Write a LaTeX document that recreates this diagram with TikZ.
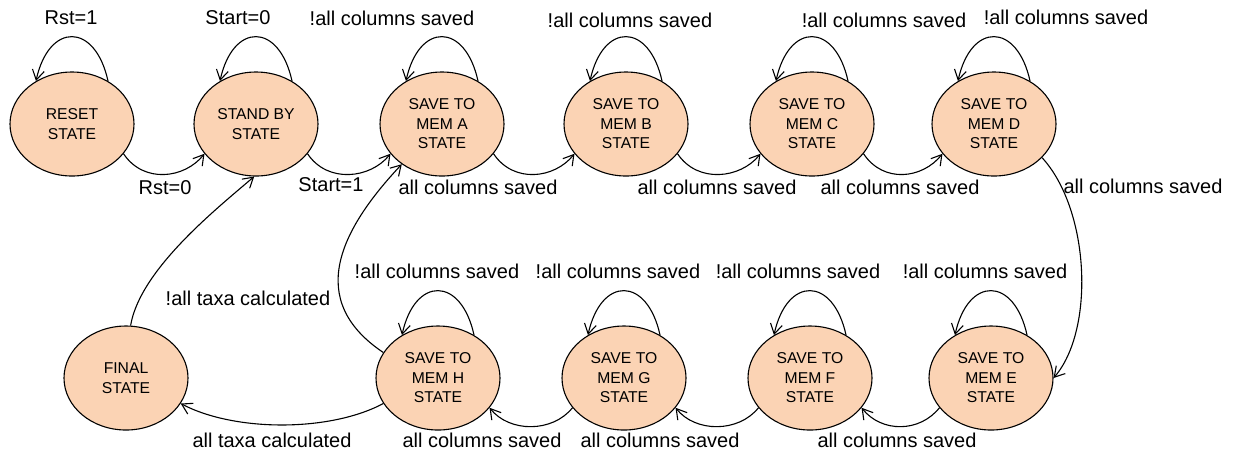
\documentclass[tikz,border=0pt]{standalone}
\usepackage{fontspec}
\setmainfont{Liberation Sans}
\usetikzlibrary{shapes.geometric,arrows.meta}
\definecolor{statefill}{RGB}{251,211,180}
\begin{document}
\begin{tikzpicture}[x=0.5pt,y=-0.5pt,
  state/.style={ellipse,draw,line width=0.55pt,fill=statefill,
    minimum width=62pt,minimum height=52pt,inner sep=0pt,align=center,
    font=\fontsize{7.85}{9.75}\selectfont},
  lbl/.style={font=\fontsize{10}{12}\selectfont,inner sep=0pt},
  tr/.style={line width=0.55pt,-{Straight Barb[length=5pt,width=6pt]}}]
\useasboundingbox (0,0) rectangle (1240,452);

% states
\node[state] (rst) at (72,124)  {RESET\\STATE};
\node[state] (stb) at (256,124) {STAND BY\\STATE};
\node[state] (ma)  at (442,124) {SAVE TO\\MEM A\\STATE};
\node[state] (mb)  at (626,124) {SAVE TO\\MEM B\\STATE};
\node[state] (mc)  at (812,124) {SAVE TO\\MEM C\\STATE};
\node[state] (md)  at (994,124) {SAVE TO\\MEM D\\STATE};
\node[state] (me)  at (991,378) {SAVE TO\\MEM E\\STATE};
\node[state] (mf)  at (810,378) {SAVE TO\\MEM F\\STATE};
\node[state] (mg)  at (624,378) {SAVE TO\\MEM G\\STATE};
\node[state] (mh)  at (438,378) {SAVE TO\\MEM H\\STATE};
\node[state] (fin) at (126,378) {FINAL\\STATE};

% self loops
\foreach \n in {rst,stb,ma,mb,mc,md,me,mf,mg,mh}
  \draw[tr] (\n.50) .. controls +(-13,-59) and +(13,-59) .. (\n.130);

% loop labels
\node[lbl] (l1) at (71,18)   {Rst=1};
\node[lbl] (l2) at (238,18)  {Start=0};
\node[lbl] (l3) at (392,18)  {!all columns saved};
\node[lbl] (l4) at (630,20)  {!all columns saved};
\node[lbl] (l5) at (884,20)  {!all columns saved};
\node[lbl] (l6) at (1066,17) {!all columns saved};
\node[lbl] (l7) at (985,271) {!all columns saved};
\node[lbl] (l8) at (798,271) {!all columns saved};
\node[lbl] (l9) at (618,271) {!all columns saved};
\node[lbl] (l10) at (437,271) {!all columns saved};

% forward transitions, top row
\draw[tr] (rst.-30) .. controls +(20,30) and +(-20,25) .. (stb.-150);
\draw[tr] (stb.-30) .. controls +(20,30) and +(-20,25) .. (ma.-150);
\draw[tr] (ma.-30)  .. controls +(20,30) and +(-20,25) .. (mb.-150);
\draw[tr] (mb.-30)  .. controls +(20,30) and +(-20,25) .. (mc.-150);
\draw[tr] (mc.-30)  .. controls +(20,30) and +(-20,25) .. (md.-150);
% down the right side
\draw[tr] (md.-35) .. controls (1090,210) and (1095,330) .. (me.east);
% bottom row, right to left
\draw[tr] (me.-150) .. controls +(-20,25) and +(20,25) .. (mf.-30);
\draw[tr] (mf.-150) .. controls +(-20,25) and +(20,25) .. (mg.-30);
\draw[tr] (mg.-150) .. controls +(-20,25) and +(20,25) .. (mh.-30);
\draw[tr] (mh.-155) .. controls (330,432) and (235,432) .. (fin.-25);
% back edges
\draw[tr] (mh.155) .. controls (305,300) and (340,230) .. (ma.-135);
\draw[tr] (fin.85) .. controls (140,270) and (215,210) .. (stb.-92);

% transition labels
\node[lbl] (t1) at (165,188)  {Rst=0};
\node[lbl] (t2) at (331,185)  {Start=1};
\node[lbl] (t3) at (478,187)  {all columns saved};
\node[lbl] (t4) at (717,187)  {all columns saved};
\node[lbl] (t5) at (900,187)  {all columns saved};
\node[lbl] (t6) at (1143,186) {all columns saved};
\node[lbl] (t7) at (897,440)  {all columns saved};
\node[lbl] (t8) at (660,440)  {all columns saved};
\node[lbl] (t9) at (482,440)  {all columns saved};
\node[lbl] (t10) at (272,440) {all taxa calculated};
\node[lbl] (t11) at (248,298) {!all taxa calculated};
\end{tikzpicture}
\end{document}
